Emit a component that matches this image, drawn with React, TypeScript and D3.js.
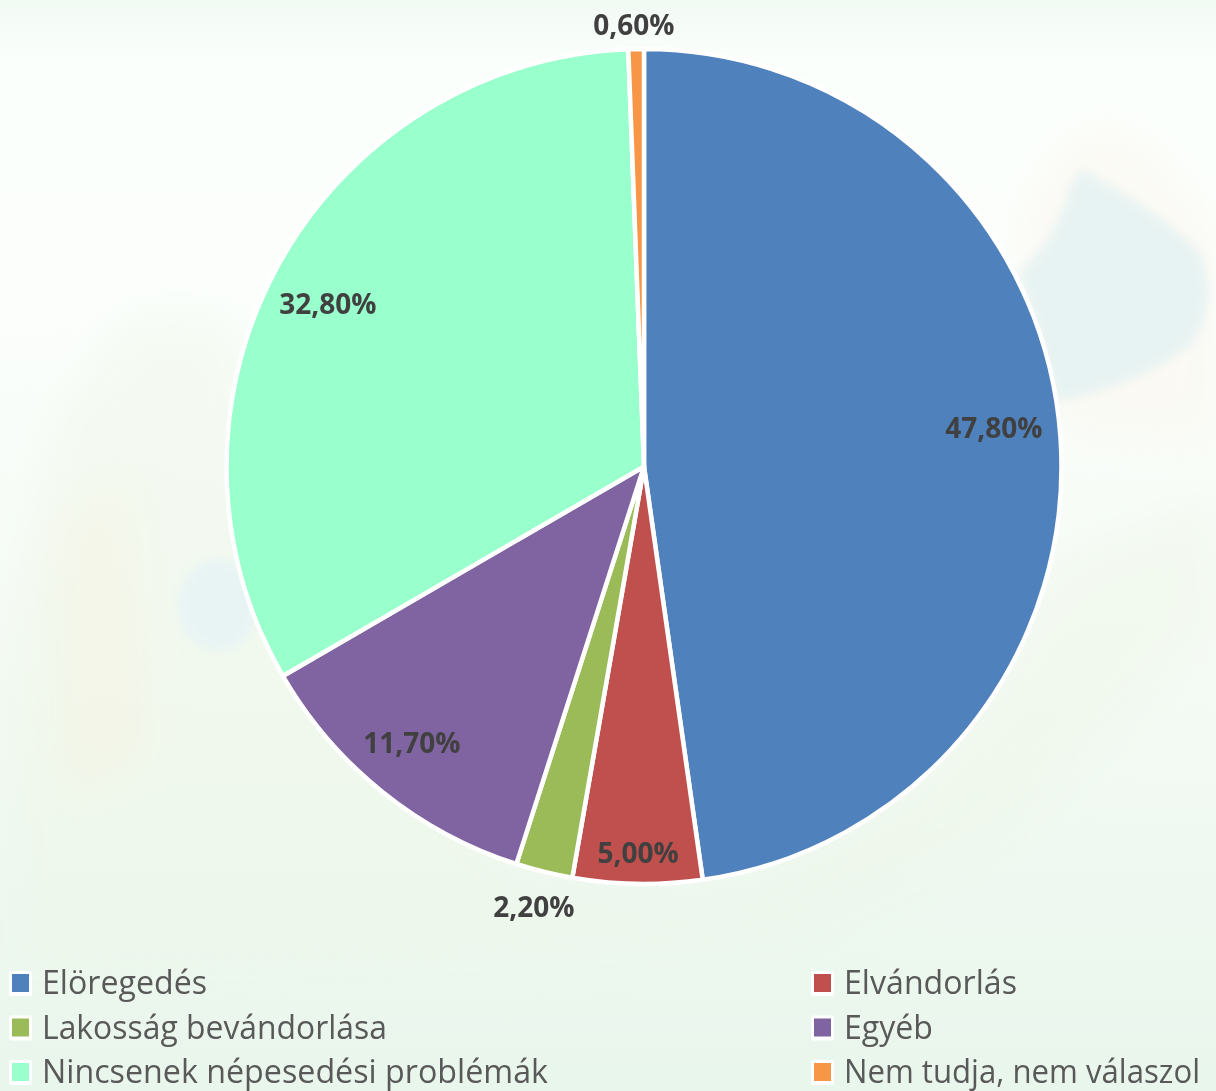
import React from "react";
import * as d3 from "d3";

const categories = ["Elöregedés", "Elvándorlás", "Lakosság bevándorlása", "Egyéb", "Nincsenek népesedési problémák", "Nem tudja, nem válaszol"];
const values = [47.8, 5.0, 2.2, 11.7, 32.8, 0.6];
const valueLabels = ["47,80%", "5,00%", "2,20%", "11,70%", "32,80%", "0,60%"];
const colors = ["#4F81BD", "#C0504D", "#9BBB59", "#8064A2", "#99FFCC", "#F79646"];
// label anchor relative to pie centre, as multiples of the radius
const labelDx = [0.838, -0.014, -0.264, -0.556, -0.757, -0.024];
const labelDy = [-0.092, 0.927, 1.056, 0.663, -0.389, -1.057];
// rendered legend text widths, px
const legendWidths = [165, 173, 345, 89, 506, 356];

const W = 1216, H = 1091, CX = 644, CY = 466.5, R = 417.5;
const FONT = "'Open Sans', sans-serif";

const pie = d3.pie<number>().sort(null).value((d) => d);
const arc = d3.arc<d3.PieArcDatum<number>>().innerRadius(0).outerRadius(R);

const legendX = d3.scalePoint<number>().domain([0, 1]).range([12, 814]);
const legendY = d3.scalePoint<number>().domain([0, 1, 2]).range([983, 1072]);

export default function App() {
  const arcs = pie(values);
  return (
    <svg width={W} height={H} viewBox={`0 0 ${W} ${H}`} style={{ position: "absolute", left: 0, top: 0, display: "block" }}>
      <defs>
        <linearGradient id="bg" x1="0" y1="0" x2="0" y2="1">
          <stop offset="0" stopColor="#F2FAF4" />
          <stop offset="0.06" stopColor="#FBFFFC" />
          <stop offset="0.28" stopColor="#FBFEFB" />
          <stop offset="0.6" stopColor="#F5FBF5" />
          <stop offset="1" stopColor="#E9F6EC" />
        </linearGradient>
        <filter id="soft" x="-20%" y="-20%" width="140%" height="140%">
          <feGaussianBlur stdDeviation="22" />
        </filter>
        <filter id="softer" x="-20%" y="-20%" width="140%" height="140%">
          <feGaussianBlur stdDeviation="5" />
        </filter>
      </defs>
      <rect width={W} height={H} fill="url(#bg)" />
      <g filter="url(#soft)">
        <path d="M20 970 L0 700 L60 420 L130 320 L230 320 L300 620 L520 880 L720 900 L930 780 L1060 560 L1216 500 L1216 620 L1000 840 L780 940 L430 960 Z" fill="#EEF6E6" opacity="0.45" />
        <path d="M1020 230 Q1060 110 1130 130 Q1190 190 1216 240 L1216 440 L1060 430 Z" fill="#FCF5EE" opacity="0.55" />
        <path d="M60 520 L130 480 L150 760 L60 800 Z" fill="#F8F1E0" opacity="0.35" />
      </g>
      <g filter="url(#softer)">
        <path d="M1020 272 Q1055 240 1068 195 Q1080 155 1098 180 Q1150 205 1198 250 Q1222 300 1190 345 Q1140 385 1055 402 Z" fill="#E7F3F2" />
        <ellipse cx="218" cy="605" rx="40" ry="46" fill="#E8F4F4" />
      </g>
      <g stroke="#FFFFFF" strokeWidth={4.5} strokeLinejoin="round">
        {arcs.map((a, i) => (
          <path key={categories[i]} d={arc(a) ?? ""} transform={`translate(${CX},${CY})`} fill={colors[i]} />
        ))}
      </g>
      <g fontFamily={FONT} fontWeight={700} fontSize={28} fill="#404040" textAnchor="middle">
        {valueLabels.map((t, i) => (
          <text key={t} x={CX + labelDx[i] * R} y={CY + labelDy[i] * R} dy="0.35em">{t}</text>
        ))}
      </g>
      <g fontFamily={FONT} fontSize={32} fill="#595959">
        {categories.map((c, i) => {
          const x = legendX(i % 2) ?? 0;
          const y = legendY(Math.floor(i / 2)) ?? 0;
          return (
            <g key={c}>
              <rect x={x - 3} y={y - 12} width={23} height={25} rx={2} fill="#FFFFFF" />
              <rect x={x} y={y - 9} width={17} height={18} fill={colors[i]} />
              <text x={x + 30} y={y} dy="0.35em" textLength={legendWidths[i]} lengthAdjust="spacingAndGlyphs">{c}</text>
            </g>
          );
        })}
      </g>
    </svg>
  );
}
